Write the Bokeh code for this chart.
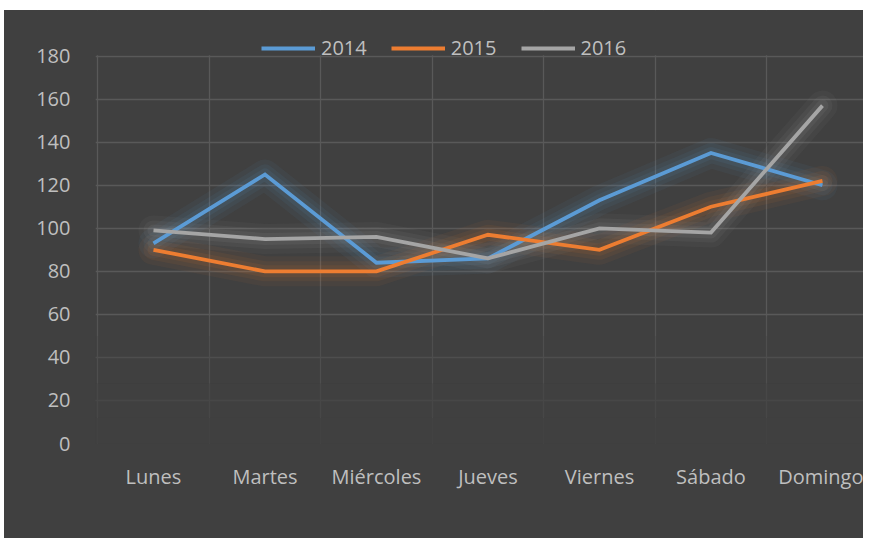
from bokeh.plotting import figure
from bokeh.models import FixedTicker, Range1d, BoxAnnotation
from bokeh.embed import file_html
from bokeh.resources import INLINE

days = ["Lunes", "Martes", "Miércoles", "Jueves", "Viernes", "Sábado", "Domingo"]
v2014 = [93, 125, 84, 86, 113, 135, 120]
v2015 = [90, 80, 80, 97, 90, 110, 122]
v2016 = [99, 95, 96, 86, 100, 98, 157]
series_names = ["2014", "2015", "2016"]
yticks = [0, 20, 40, 60, 80, 100, 120, 140, 160, 180]

colors = ["#5B9BD5", "#ED7D31", "#A5A5A5"]
BG = "#404040"
TXT = "#BFBFBF"
FONT = "Open Sans"

xs = list(range(len(days)))

p = figure(width=859, height=528, output_backend="svg", toolbar_location=None,
           x_range=Range1d(-0.52, 6.368), y_range=Range1d(0, 201.2),
           min_border_left=91, min_border_right=0, min_border_top=0,
           min_border_bottom=95)
p.margin = (10, 0, 0, 4)
p.background_fill_color = BG
p.border_fill_color = None
p.styles = {"background-color": BG}
p.outline_line_color = None

# axes
p.xaxis.ticker = FixedTicker(ticks=xs)
p.xaxis.major_label_overrides = {i: d for i, d in enumerate(days)}
p.yaxis.ticker = FixedTicker(ticks=yticks)
for ax in (p.xaxis, p.yaxis):
    ax.axis_line_color = None
    ax.major_tick_line_color = None
    ax.minor_tick_line_color = None
    ax.major_tick_out = 0
    ax.major_tick_in = 0
    ax.major_label_text_font = FONT
    ax.major_label_text_font_size = "20px"
    ax.major_label_text_color = TXT
p.xaxis.major_label_standoff = 19
p.yaxis.major_label_standoff = 25

# grids
p.xgrid.ticker = FixedTicker(ticks=[i - 0.5 for i in xs])
p.ygrid.ticker = FixedTicker(ticks=[t for t in yticks if t > 0])
for g in (p.xgrid, p.ygrid):
    g.grid_line_color = "#595959"
    g.grid_line_width = 1.3

# glow + lines
for name, vals, c in zip(series_names, [v2014, v2015, v2016], colors):
    for w, a in [(30, 0.055), (20, 0.07), (12, 0.09)]:
        p.line(xs, vals, line_color=c, line_width=w, line_alpha=a,
               line_join="round", line_cap="round")
for name, vals, c in zip(series_names, [v2014, v2015, v2016], colors):
    p.line(xs, vals, line_color=c, line_width=3.8, legend_label=name,
           line_join="miter")

# bottom fade of gridlines
for b, t, a in [(0, 12, 0.92), (12, 28, 0.7), (28, 50, 0.45), (50, 59, 0.2)]:
    p.add_layout(BoxAnnotation(bottom=b, top=t, fill_color=BG, fill_alpha=a,
                               line_alpha=0))
# area above the plot area (vertical gridlines stop at 180)
p.add_layout(BoxAnnotation(bottom=180.35, fill_color=BG, fill_alpha=1,
                           line_alpha=0))

lg = p.legend[0]
lg.orientation = "horizontal"
lg.location = (166, 382)
lg.padding = 0
lg.margin = 0
lg.spacing = 24
lg.glyph_width = 54
lg.glyph_height = 20
lg.label_height = 20
lg.label_standoff = 6
lg.label_text_font = FONT
lg.label_text_font_size = "20px"
lg.label_text_color = TXT
lg.background_fill_alpha = 0
lg.border_line_alpha = 0
# draw legend after the cover box
p.center.remove(lg)
p.add_layout(lg, "center")

open("out.html", "w").write(file_html(p, INLINE))
